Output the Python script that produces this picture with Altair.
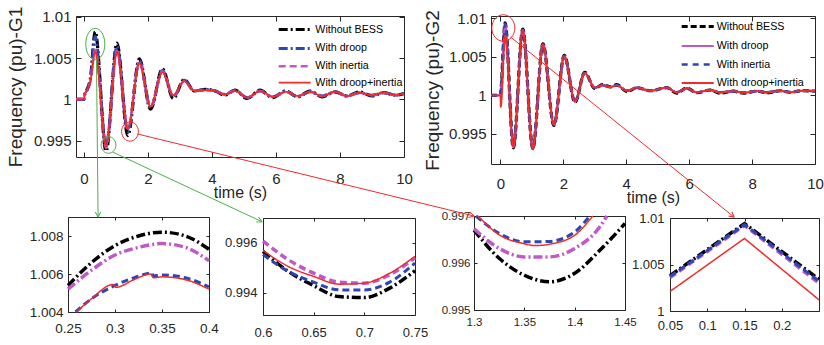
import math
import altair as alt
import pandas as pd

W, H = 824, 345
FONT = "Liberation Sans, Arial, sans-serif"
INK = "#262626"
SERIES = ["Without BESS", "With droop", "With inertia", "With droop+inertia"]
BLACK, BLUE, MAGENTA, RED, GREEN = "#000000", "#2c46b4", "#c058c8", "#f22a2a", "#4daf4a"

# ---------------- data: G1 main panel ----------------
G1_T = [-0.25, 0.0, 0.02, 0.1, 0.2, 0.35, 0.69, 1.03, 1.37, 1.73, 2.08, 2.45, 2.79, 3.13, 3.45, 3.8,
        4.1, 4.4, 4.72, 5.1, 5.5, 5.9, 6.3, 6.68, 7.06, 7.45, 7.84, 8.22, 8.6, 9.0, 9.36, 9.75, 10.0]
G1_WITHOUT = [1.0, 1.0, 1.0006, 1.0012, 1.0025, 1.0082, 0.9937, 1.0068, 0.9956, 1.0049, 0.9988, 1.0037, 1.0001,
              1.0024, 1.0010, 1.0012, 1.0010, 1.0005, 1.0011, 1.0001, 1.0011, 1.0002, 1.0010, 1.0003, 1.0010,
              1.0003, 1.0009, 1.0004, 1.0009, 1.0004, 1.0008, 1.0005, 1.0007]
G1_DROOP = [1.0, 1.0, 1.0006, 1.0012, 1.0024, 1.0076, 0.9943, 1.0064, 0.9961, 1.0047, 0.9990, 1.0035, 1.0003,
            1.0023, 1.0010, 1.0012, 1.0010, 1.0006, 1.0011, 1.0002, 1.0010, 1.0003, 1.0010, 1.0003, 1.0009,
            1.0004, 1.0009, 1.0004, 1.0008, 1.0005, 1.0008, 1.0005, 1.0007]
G1_INERTIA = [1.0, 1.0, 1.0006, 1.0011, 1.0022, 1.0060, 0.9941, 1.0059, 0.99645, 1.0045, 0.9991, 1.0034, 1.0004,
              1.0022, 1.0010, 1.0011, 1.0010, 1.0006, 1.0010, 1.0002, 1.0010, 1.0003, 1.0009, 1.0004, 1.0009,
              1.0004, 1.0009, 1.0004, 1.0008, 1.0005, 1.0008, 1.0005, 1.0007]
G1_BOTH = [1.0, 1.0, 1.0006, 1.0011, 1.0022, 1.0058, 0.9943, 1.0058, 0.99637, 1.0044, 0.9991, 1.0033, 1.0005,
           1.0022, 1.0010, 1.0011, 1.0010, 1.0006, 1.0010, 1.0002, 1.0010, 1.0003, 1.0009, 1.0004, 1.0009,
           1.0004, 1.0009, 1.0004, 1.0008, 1.0005, 1.0008, 1.0005, 1.0007]

# ---------------- data: G2 main panel ----------------
G2_T = [-0.3, 0.0, 0.01, 0.15, 0.41, 0.71, 1.03, 1.35, 1.70, 2.03, 2.37, 2.68, 3.0, 3.25, 3.5, 3.7, 4.02,
        4.34, 4.76, 5.29, 5.6, 5.93, 6.24, 6.67, 6.98, 7.4, 7.73, 8.15, 8.47, 8.9, 9.2, 9.6, 10.0]
G2_WITHOUT = [1.0, 1.0, 1.0003, 1.0094, 0.9932, 1.0086, 0.9931, 1.0067, 0.9961, 1.0052, 0.9991, 1.0030, 1.0009,
              1.0014, 1.0011, 1.0014, 1.0005, 1.0010, 1.0006, 1.0010, 1.0003, 1.00095, 1.00035, 1.0007, 1.0003,
              1.00055, 1.0003, 1.00055, 1.00035, 1.0006, 1.0004, 1.0006, 1.00055]
G2_DROOP = [1.0, 1.0, 1.0003, 1.0092, 0.9933, 1.0085, 0.9931, 1.0066, 0.9962, 1.0051, 0.9992, 1.0029, 1.0010,
            1.0013, 1.0011, 1.0013, 1.0006, 1.0010, 1.0006, 1.0010, 1.0004, 1.0009, 1.0004, 1.0007, 1.0004,
            1.00055, 1.00035, 1.00055, 1.0004, 1.0006, 1.0004, 1.0006, 1.00055]
G2_INERTIA = [1.0, 1.0, 1.0003, 1.0093, 0.9933, 1.0085, 0.9931, 1.0066, 0.9962, 1.0051, 0.9992, 1.0029, 1.0010,
              1.0013, 1.0011, 1.0013, 1.0006, 1.0010, 1.0006, 1.0010, 1.0004, 1.0009, 1.0004, 1.0007, 1.0004,
              1.00055, 1.00035, 1.00055, 1.0004, 1.0006, 1.0004, 1.0006, 1.00055]
G2_BOTH = [1.0, 1.0, 0.9985, 1.0078, 0.9934, 1.0085, 0.9931, 1.0066, 0.9962, 1.0051, 0.9992, 1.0029, 1.0010,
           1.0013, 1.0011, 1.0013, 1.0006, 1.0010, 1.0006, 1.0010, 1.0004, 1.0009, 1.0004, 1.0007, 1.0004,
           1.00055, 1.00035, 1.00055, 1.0004, 1.0006, 1.0004, 1.0006, 1.00055]

# ---------------- data: zoom A (G1 first peak) ----------------
ZA_WITHOUT_X = [0.25, 0.275, 0.30, 0.325, 0.35, 0.375, 0.40]
ZA_WITHOUT_Y = [1.0054, 1.0066, 1.0075, 1.0080, 1.0082, 1.0080, 1.0073]
ZA_DROOP_X = [0.25, 0.275, 0.30, 0.325, 0.35, 0.375, 0.40]
ZA_DROOP_Y = [1.0052, 1.0062, 1.0070, 1.0074, 1.0076, 1.0074, 1.0067]
ZA_INERTIA_X = [0.258, 0.275, 0.30, 0.32, 0.3395, 0.3405, 0.35, 0.375, 0.40]
ZA_INERTIA_Y = [1.0040, 1.0047, 1.0054, 1.0058, 1.00605, 1.0059, 1.00595, 1.0058, 1.00532]
ZA_BOTH_X = [0.259, 0.275, 0.298, 0.301, 0.32, 0.338, 0.341, 0.35, 0.375, 0.40]
ZA_BOTH_Y = [1.0040, 1.0047, 1.00545, 1.0053, 1.0057, 1.0060, 1.0058, 1.00585, 1.0057, 1.0052]

# ---------------- data: zoom B (G1 first trough) ----------------
ZB_X = [0.60, 0.625, 0.65, 0.675, 0.70, 0.725, 0.75]
ZB_WITHOUT_Y = [0.99566, 0.99485, 0.99428, 0.99384, 0.99380, 0.99418, 0.99488]
ZB_DROOP_Y = [0.99607, 0.99532, 0.99478, 0.99442, 0.99438, 0.99472, 0.99540]
ZB_INERTIA_Y = [0.99553, 0.99485, 0.99442, 0.99411, 0.99411, 0.99442, 0.99519]
ZB_BOTH_Y = [0.99569, 0.99505, 0.99465, 0.99434, 0.99438, 0.99478, 0.99546]

# ---------------- data: zoom C (G1 second trough) ----------------
ZC_WITHOUT_X = [1.30, 1.325, 1.35, 1.375, 1.40, 1.425, 1.45]
ZC_WITHOUT_Y = [0.99670, 0.99610, 0.99574, 0.99560, 0.99578, 0.99627, 0.99684]
ZC_DROOP_X = [1.30, 1.325, 1.35, 1.375, 1.40, 1.425, 1.432]
ZC_DROOP_Y = [0.99673, 0.99631, 0.99613, 0.99613, 0.99631, 0.99677, 0.99700]
ZC_INERTIA_X = [1.302, 1.325, 1.35, 1.375, 1.40, 1.415]
ZC_INERTIA_Y = [0.99700, 0.99663, 0.99645, 0.99646, 0.99666, 0.99700]
ZC_BOTH_X = [1.304, 1.325, 1.35, 1.36, 1.375, 1.40, 1.418]
ZC_BOTH_Y = [0.99700, 0.99660, 0.99641, 0.99637, 0.99640, 0.99659, 0.99700]

# ---------------- data: zoom D (G2 first peak) ----------------
ZD_X = [0.05, 0.15, 0.25]
ZD_WITHOUT_Y = [1.0038, 1.0094, 1.0034]
ZD_DROOP_Y = [1.0036, 1.0092, 1.0030]
ZD_INERTIA_Y = [1.0037, 1.0093, 1.0032]
ZD_BOTH_Y = [1.0021, 1.0078, 1.0012]

# ---------------- layout of panels (pixels) ----------------
DASHDOT = [9, 3, 2, 3]
DASH = [7, 4]
SOLID = [1, 0]
PANELS = {
    "g1": dict(xd=[-0.25, 10], yd=[0.993, 1.0101], xr=[76, 404], yr=[16, 157],
               xv=[0, 2, 4, 6, 8, 10], yv=[0.995, 1.0, 1.005, 1.01], fs=15, tick=5, xlp=14, ylp=5,
               xtitle="time (s)", ytitle="Frequency (pu)-G1", xtfs=16, ytfs=19, xtp=-2, ytp=8,
               colors=[BLACK, BLUE, MAGENTA, RED], dashes=[DASHDOT, DASHDOT, DASH, SOLID],
               widths=[3.2, 3.0, 2.5, 1.8], interp="monotone",
               legend=dict(x=287.7, y=22.5, lo=13.6, rp=4.9)),
    "g2": dict(xd=[-0.3, 10], yd=[0.9911, 1.0103], xr=[491, 815], yr=[16, 164],
               xv=[0, 2, 4, 6, 8, 10], yv=[0.995, 1.0, 1.005, 1.01], fs=15, tick=5, xlp=12, ylp=5,
               xtitle="time (s)", ytitle="Frequency (pu)-G2", xtfs=16, ytfs=19, xtp=-2, ytp=6,
               colors=[BLACK, MAGENTA, BLUE, RED], dashes=[[6, 3], SOLID, [6, 5], SOLID],
               widths=[3.2, 2.2, 2.6, 1.8], interp="monotone",
               legend=dict(x=690.7, y=19.5, lo=12, rp=6)),
    "za": dict(xd=[0.25, 0.4], yd=[1.004, 1.009], xr=[68, 209], yr=[217, 312],
               xv=[0.25, 0.3, 0.35, 0.4], yv=[1.004, 1.006, 1.008], fs=13.5, tick=3, xlp=9, ylp=5,
               colors=[BLACK, MAGENTA, BLUE, RED], dashes=[DASHDOT, DASHDOT, DASH, SOLID],
               widths=[3.5, 3.5, 3.0, 1.5], interp="monotone"),
    "zb": dict(xd=[0.6, 0.75], yd=[0.9931, 0.997], xr=[263, 415], yr=[218, 315],
               xv=[0.6, 0.65, 0.7, 0.75], yv=[0.994, 0.996], fs=13, tick=3, xlp=11, ylp=6,
               colors=[BLACK, MAGENTA, BLUE, RED], dashes=[DASHDOT, DASH, DASH, SOLID],
               widths=[3.5, 3.5, 3.0, 1.5], interp="monotone"),
    "zc": dict(xd=[1.3, 1.45], yd=[0.995, 0.997], xr=[474, 625], yr=[216, 310],
               xv=[1.3, 1.35, 1.4, 1.45], yv=[0.995, 0.996, 0.997], fs=11.5, tick=3, xlp=6, ylp=4,
               colors=[BLACK, MAGENTA, BLUE, RED], dashes=[DASHDOT, DASHDOT, DASH, SOLID],
               widths=[3.5, 3.5, 3.0, 1.5], interp="monotone"),
    "zd": dict(xd=[0.05, 0.25], yd=[1.0, 1.01], xr=[670, 819], yr=[218, 311],
               xv=[0.05, 0.1, 0.15, 0.2], yv=[1.0, 1.005, 1.01], fs=13, tick=3, xlp=8, ylp=6,
               colors=[BLACK, MAGENTA, BLUE, RED], dashes=[DASHDOT, DASH, DASH, SOLID],
               widths=[3.5, 3.5, 3.0, 1.5], interp="linear"),
}

DATA = {
    "g1": [(SERIES[0], G1_T, G1_WITHOUT), (SERIES[1], G1_T, G1_DROOP),
           (SERIES[2], G1_T, G1_INERTIA), (SERIES[3], G1_T, G1_BOTH)],
    "g2": [(SERIES[0], G2_T, G2_WITHOUT), (SERIES[1], G2_T, G2_DROOP),
           (SERIES[2], G2_T, G2_INERTIA), (SERIES[3], G2_T, G2_BOTH)],
    "za": [(SERIES[0], ZA_WITHOUT_X, ZA_WITHOUT_Y), (SERIES[1], ZA_DROOP_X, ZA_DROOP_Y),
           (SERIES[2], ZA_INERTIA_X, ZA_INERTIA_Y), (SERIES[3], ZA_BOTH_X, ZA_BOTH_Y)],
    "zb": [(SERIES[0], ZB_X, ZB_WITHOUT_Y), (SERIES[1], ZB_X, ZB_DROOP_Y),
           (SERIES[2], ZB_X, ZB_INERTIA_Y), (SERIES[3], ZB_X, ZB_BOTH_Y)],
    "zc": [(SERIES[0], ZC_WITHOUT_X, ZC_WITHOUT_Y), (SERIES[1], ZC_DROOP_X, ZC_DROOP_Y),
           (SERIES[2], ZC_INERTIA_X, ZC_INERTIA_Y), (SERIES[3], ZC_BOTH_X, ZC_BOTH_Y)],
    "zd": [(SERIES[0], ZD_X, ZD_WITHOUT_Y), (SERIES[1], ZD_X, ZD_DROOP_Y),
           (SERIES[2], ZD_X, ZD_INERTIA_Y), (SERIES[3], ZD_X, ZD_BOTH_Y)],
}

# annotation marks (in each main panel's own data units)
def ellipse(ratio):
    return f"M0,-{ratio}A1,{ratio} 0 1,1 0,{ratio}A1,{ratio} 0 1,1 0,-{ratio}Z"

MARKS = {
    "g1": [(0.353, 1.00670, ellipse(1.65), 9.5, GREEN),
           (0.766, 0.994455, ellipse(1.12), 7.4, GREEN),
           (1.4375, 0.996093, ellipse(1.15), 8.4, RED)],
    "g2": [(0.092, 1.008743, ellipse(1.15), 11.5, RED)],
}
# connectors: from a point of a main panel to a point of a zoom panel
CONNECT = [
    ("g1", 0.39, 1.0048, "za", 0.282, 1.009, GREEN),
    ("g1", 0.89, 0.99361, "zb", 0.599, 0.99685, GREEN),
    ("g1", 1.672, 0.99579, "zc", 1.3, 0.997, RED),
    ("g2", 0.321, 1.007576, "zd", 0.136, 1.0101, RED),
]


def to_px(key, x, y):
    p = PANELS[key]
    px = p["xr"][0] + (x - p["xd"][0]) / (p["xd"][1] - p["xd"][0]) * (p["xr"][1] - p["xr"][0])
    py = p["yr"][1] - (y - p["yd"][0]) / (p["yd"][1] - p["yd"][0]) * (p["yr"][1] - p["yr"][0])
    return px, py


def scales(p):
    xs = alt.Scale(domain=p["xd"], range=p["xr"], nice=False, zero=False)
    ys = alt.Scale(domain=p["yd"], range=[p["yr"][1], p["yr"][0]], nice=False, zero=False)
    return xs, ys


def tick_axis(orient, offset, values, size):
    return alt.Axis(orient=orient, offset=offset, values=values, labels=False, ticks=True,
                    tickSize=size, tickColor=INK, tickWidth=1, domain=True, domainColor=INK,
                    domainWidth=1, grid=False, title=None)


def panel_layers(key):
    p = PANELS[key]
    xs, ys = scales(p)
    rows = []
    for name, xv, yv in DATA[key]:
        for a, b in zip(xv, yv):
            rows.append({"s": name, "x": a, "y": b})
    df = pd.DataFrame(rows)

    xax = dict(orient="bottom", offset=p["yr"][1] - H, values=p["xv"], format="~r", domain=False,
               ticks=False, grid=False, labelFont=FONT, labelFontSize=p["fs"], labelColor=INK,
               labelPadding=p["xlp"], labelFlush=False, labelOverlap=False)
    yax = dict(orient="left", offset=-p["xr"][0], values=p["yv"], format="~r", domain=False,
               ticks=False, grid=False, labelFont=FONT, labelFontSize=p["fs"], labelColor=INK,
               labelPadding=p["ylp"], labelFlush=False, labelOverlap=False)
    if "xtitle" in p:
        xax.update(title=p["xtitle"], titleFont=FONT, titleFontSize=p["xtfs"], titleFontWeight="normal",
                   titleColor=INK, titlePadding=p["xtp"])
        yax.update(title=p["ytitle"], titleFont=FONT, titleFontSize=p["ytfs"], titleFontWeight="normal",
                   titleColor=INK, titlePadding=p["ytp"])
    else:
        xax.update(title=None)
        yax.update(title=None)

    if "legend" in p:
        lg = p["legend"]
        leg = alt.Legend(orient="none", legendX=lg["x"], legendY=lg["y"], title=None, labelFont=FONT,
                         labelFontSize=10.7, labelColor="#000000", symbolType="M-3,0L3,0",
                         symbolSize=114, labelOffset=lg["lo"], rowPadding=lg["rp"], padding=0)
    else:
        leg = None

    lines = alt.Chart(df).mark_line(interpolate=p["interp"], strokeCap="butt").encode(
        x=alt.X("x:Q", scale=xs, axis=alt.Axis(**xax)),
        y=alt.Y("y:Q", scale=ys, axis=alt.Axis(**yax)),
        color=alt.Color("s:N", scale=alt.Scale(domain=SERIES, range=p["colors"]), legend=leg),
        strokeDash=alt.StrokeDash("s:N", scale=alt.Scale(domain=SERIES, range=p["dashes"]), legend=leg),
        strokeWidth=alt.StrokeWidth("s:N", scale=alt.Scale(type="ordinal", domain=SERIES, range=p["widths"]),
                                    legend=leg),
        order=alt.value(0),
    )

    corners = pd.DataFrame({"x": p["xd"], "y": p["yd"]})
    frame1 = alt.Chart(corners).mark_point(opacity=0).encode(
        x=alt.X("x:Q", scale=xs, axis=tick_axis("top", -p["yr"][1], p["xv"], p["tick"])),
        y=alt.Y("y:Q", scale=ys, axis=tick_axis("right", p["xr"][0] - W, p["yv"], p["tick"])),
    )
    frame2 = alt.Chart(corners).mark_point(opacity=0).encode(
        x=alt.X("x:Q", scale=xs, axis=tick_axis("bottom", p["yr"][0] - H, p["xv"], p["tick"])),
        y=alt.Y("y:Q", scale=ys, axis=tick_axis("left", -p["xr"][1], p["yv"], p["tick"])),
    )
    layers = [frame1, frame2, lines]

    if key in MARKS:
        mdf = pd.DataFrame([{"x": a, "y": b, "shape": s, "size": (2 * r) ** 2, "c": c}
                            for a, b, s, r, c in MARKS[key]])
        layers.append(alt.Chart(mdf).mark_point(filled=False, opacity=1, strokeWidth=1).encode(
            x=alt.X("x:Q", scale=xs, axis=None),
            y=alt.Y("y:Q", scale=ys, axis=None),
            shape=alt.Shape("shape:N", scale=None),
            size=alt.Size("size:Q", scale=None),
            stroke=alt.Stroke("c:N", scale=None),
        ))
    return layers


layers = []
for k in ["g1", "g2", "za", "zb", "zc", "zd"]:
    layers += panel_layers(k)

seg_rows, head_rows = [], []
for src, sx, sy, dst, dx, dy, c in CONNECT:
    x1, y1 = to_px(src, sx, sy)
    x2, y2 = to_px(dst, dx, dy)
    seg_rows.append({"x": x1, "y": y1, "x2": x2, "y2": y2, "c": c})
    ang = math.degrees(math.atan2(-(x2 - x1), (y2 - y1))) % 360
    head_rows.append({"x": x2, "y": y2, "a": ang, "c": c})

segs = alt.Chart(pd.DataFrame(seg_rows)).mark_rule(strokeWidth=1).encode(
    x=alt.X("x:Q", scale=None, axis=None), y=alt.Y("y:Q", scale=None, axis=None),
    x2="x2:Q", y2="y2:Q", stroke=alt.Stroke("c:N", scale=None),
)
heads = alt.Chart(pd.DataFrame(head_rows)).mark_point(
    shape="M-0.55,-1L0,0L0.55,-1", size=100, filled=False, opacity=1, strokeWidth=1).encode(
    x=alt.X("x:Q", scale=None, axis=None), y=alt.Y("y:Q", scale=None, axis=None),
    angle=alt.Angle("a:Q", scale=None), stroke=alt.Stroke("c:N", scale=None),
)
layers += [segs, heads]

chart = alt.layer(*layers).resolve_scale(
    x="independent", y="independent", color="independent", strokeDash="independent",
    strokeWidth="independent", shape="independent", size="independent", stroke="independent",
    angle="independent",
).properties(
    width=W, height=H, padding=0, background="white",
    autosize=alt.AutoSizeParams(type="none"),
).configure_view(strokeWidth=0)

chart.save("out.html", embed_options={"renderer": "svg", "actions": False})
